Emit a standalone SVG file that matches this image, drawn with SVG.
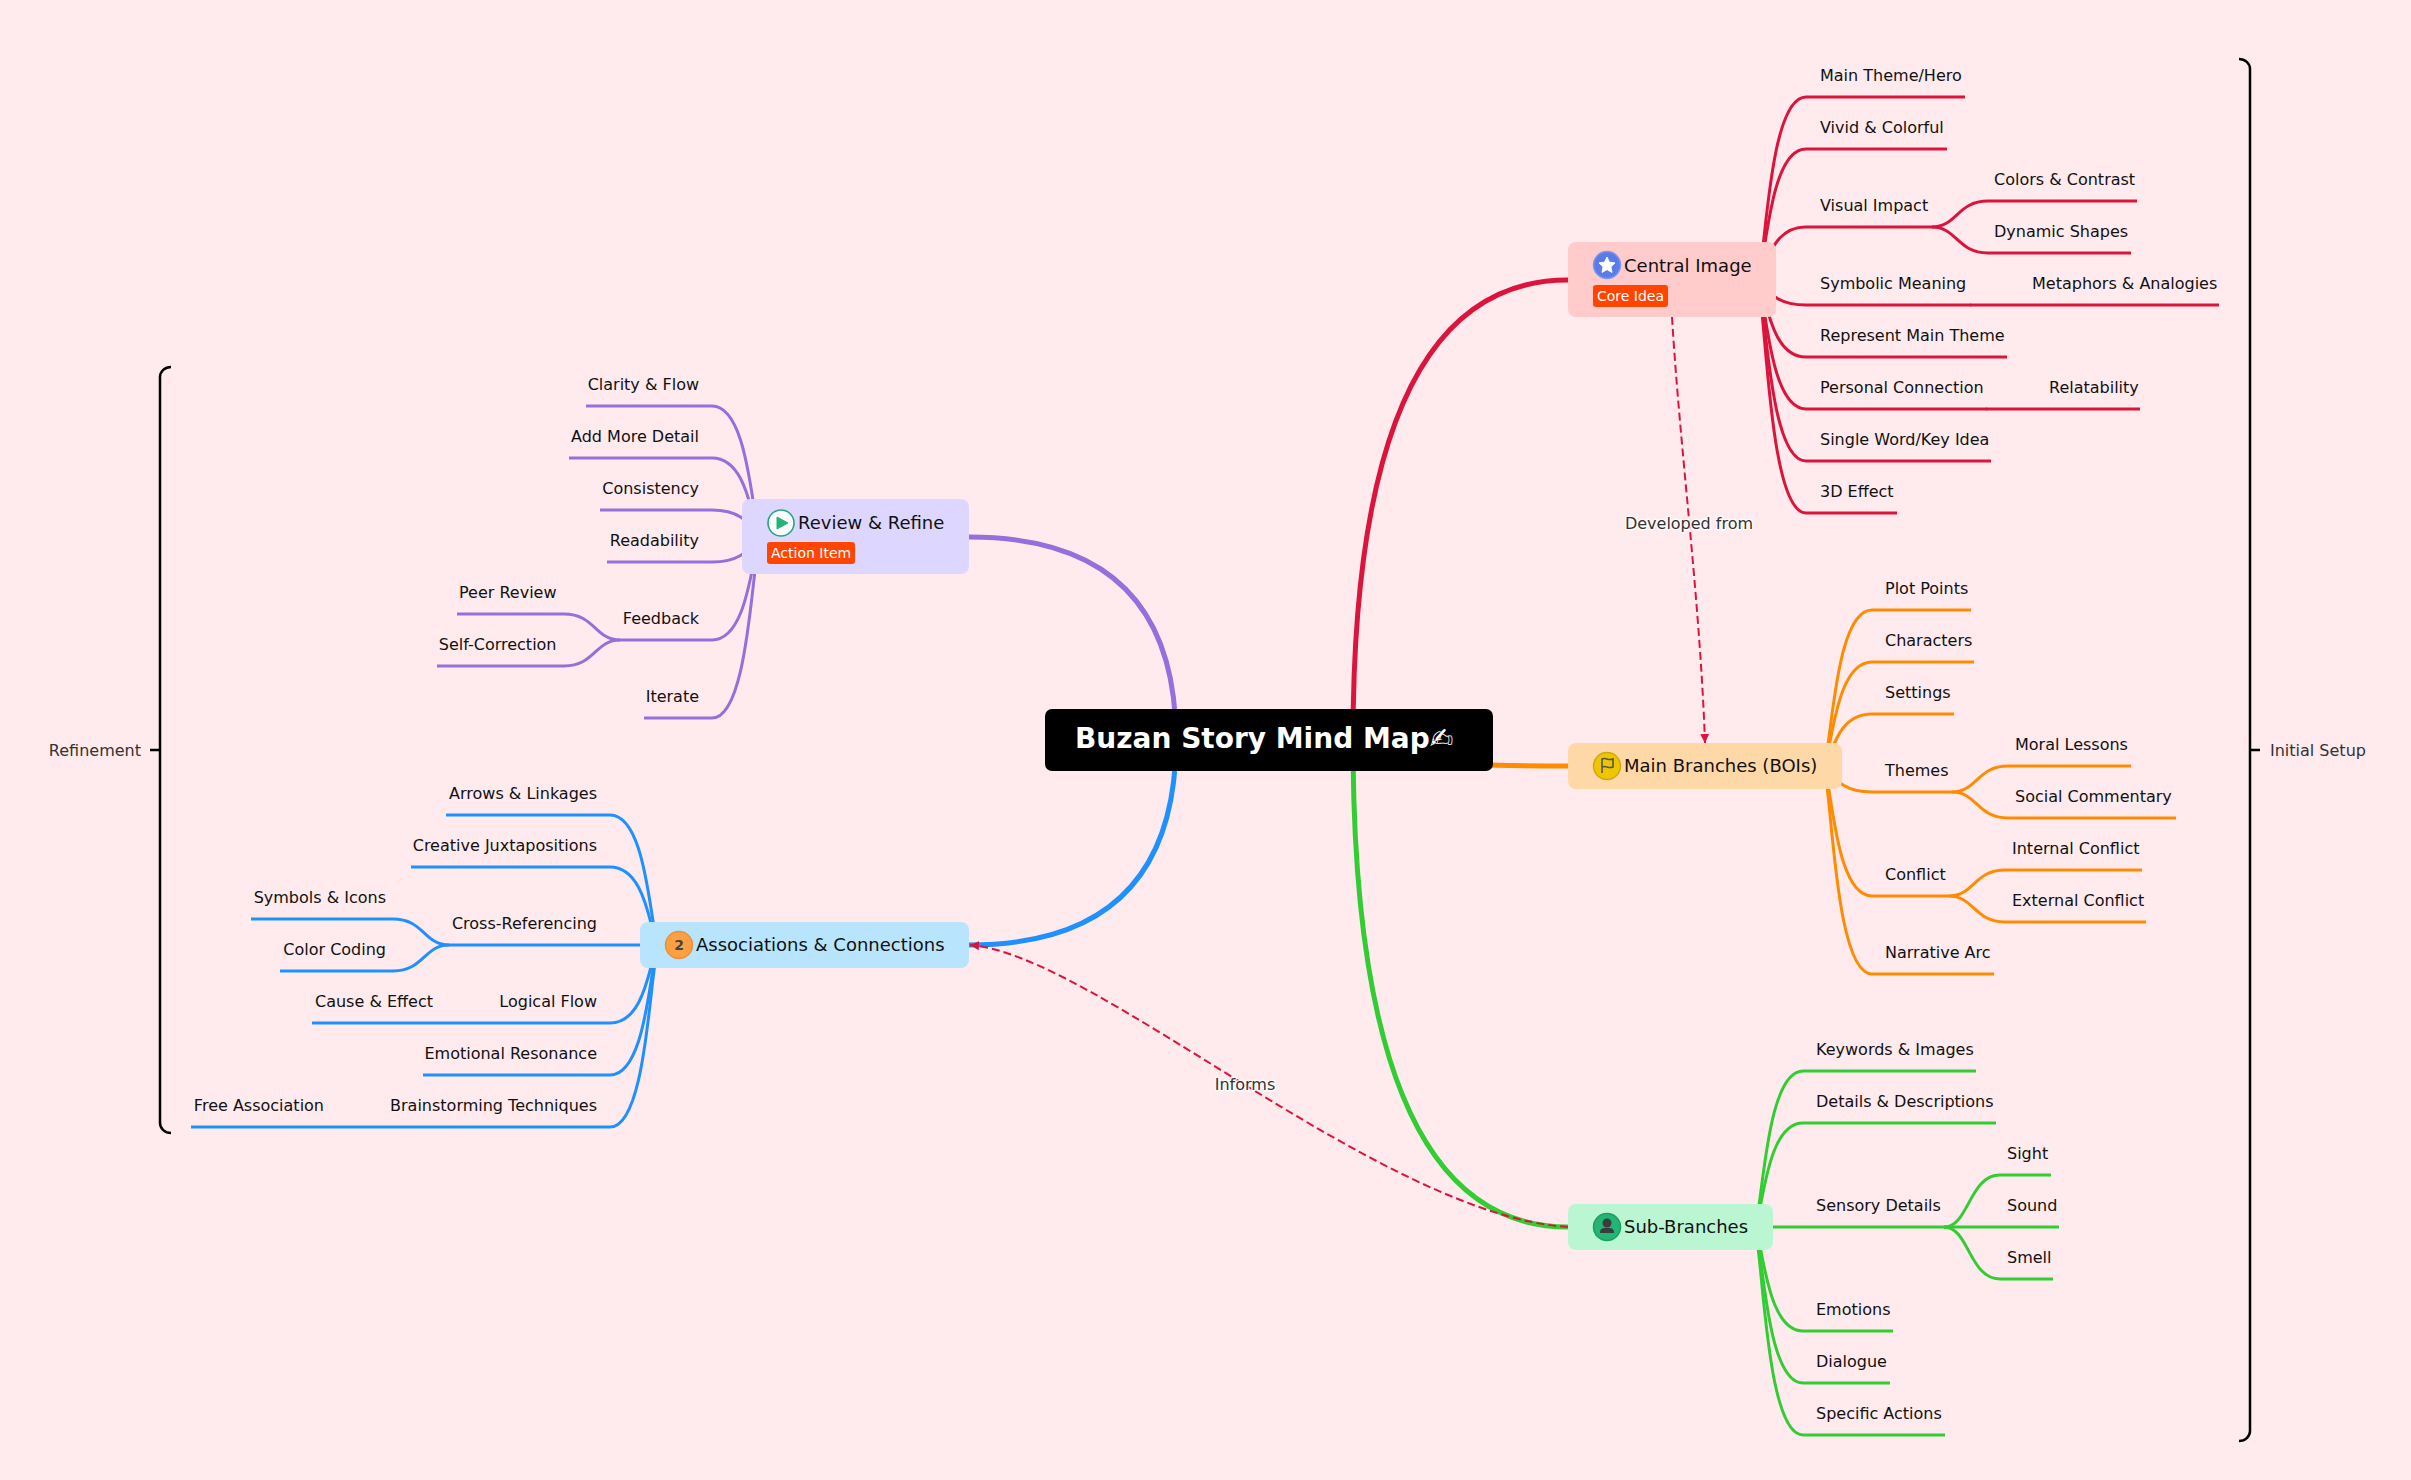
<svg xmlns="http://www.w3.org/2000/svg" width="2411" height="1480" viewBox="0 0 2411 1480">
<style>
text{font-family:"DejaVu Sans","Noto Sans CJK SC",sans-serif;font-size:16px;fill:#111}
.e{text-anchor:end}
.m{font-size:18px}
.t{font-size:14px;fill:#fff}
.s{fill:#333}
.l{fill:#333;text-anchor:middle;stroke:#fff;stroke-width:3px;stroke-opacity:.8;paint-order:stroke;stroke-linejoin:round}
.title{font-size:28px;font-weight:700;fill:#fff}
path{fill:none}
.r path{stroke:#dc143c}.o path{stroke:#ff8c00}.g path{stroke:#32cd32}.b path{stroke:#1e90ff}.p path{stroke:#9370db}
.main path{stroke-width:5}
.sub path{stroke-width:3}
.link{stroke:#dc143c;stroke-width:2;stroke-dasharray:8 4;marker-end:url(#arrow)}
.brace{stroke:#000;stroke-width:2.5}
.tag{fill:#ff4500}
</style>
<defs><marker id="arrow" markerUnits="userSpaceOnUse" markerWidth="10" markerHeight="10" refX="9" refY="5" orient="auto"><polygon points="0,0.5 9,5 0,9.5" fill="#dc143c"/></marker></defs>
<rect width="2411" height="1480" fill="#ffeaee"/>
<g id="connectors">
<g class="main">
<g class="r"><path d="M1353 740Q1353 280 1568 280"/></g>
<g class="o"><path d="M1353 740Q1353 766 1568 766"/></g>
<g class="g"><path d="M1353 740Q1353 1227 1568 1227"/></g>
<g class="p"><path d="M1176 740Q1176 537 969 537"/></g>
<g class="b"><path d="M1176 740Q1176 945 969 945"/></g>
</g>
<g class="sub">
<g class="r">
<path d="M1756 280C1766 280 1766 97 1806 97H1965"/>
<path d="M1756 280C1766 280 1766 149 1806 149H1947"/>
<path d="M1756 280C1766 280 1766 227 1806 227H1932"/>
<path d="M1756 280C1766 280 1766 305 1806 305H1971"/>
<path d="M1756 280C1766 280 1766 357 1806 357H2007"/>
<path d="M1756 280C1766 280 1766 409 1806 409H1987"/>
<path d="M1756 280C1766 280 1766 461 1806 461H1991"/>
<path d="M1756 280C1766 280 1766 513 1806 513H1897"/>
<path d="M1932 227C1957 227 1957 201 1988 201H2137"/>
<path d="M1932 227C1957 227 1957 253 1988 253H2131"/>
<path d="M1970 305H2219"/>
<path d="M1986 409H2140"/>
</g>
<g class="o">
<path d="M1822 766C1832 766 1832 610 1872 610H1971"/>
<path d="M1822 766C1832 766 1832 662 1872 662H1974"/>
<path d="M1822 766C1832 766 1832 714 1872 714H1954"/>
<path d="M1822 766C1832 766 1832 792 1872 792H1952"/>
<path d="M1822 766C1832 766 1832 896 1872 896H1949"/>
<path d="M1822 766C1832 766 1832 974 1872 974H1994"/>
<path d="M1952 792C1977 792 1977 766 2008 766H2131"/>
<path d="M1952 792C1977 792 1977 818 2008 818H2176"/>
<path d="M1949 896C1974 896 1974 870 2005 870H2142"/>
<path d="M1949 896C1974 896 1974 922 2005 922H2146"/>
</g>
<g class="g">
<path d="M1753 1227C1763 1227 1763 1071 1803 1071H1976"/>
<path d="M1753 1227C1763 1227 1763 1123 1803 1123H1996"/>
<path d="M1753 1227H1944"/>
<path d="M1753 1227C1763 1227 1763 1331 1803 1331H1893"/>
<path d="M1753 1227C1763 1227 1763 1383 1803 1383H1890"/>
<path d="M1753 1227C1763 1227 1763 1435 1803 1435H1945"/>
<path d="M1944 1227C1969 1227 1969 1175 2000 1175H2051"/>
<path d="M1944 1227H2059"/>
<path d="M1944 1227C1969 1227 1969 1279 2000 1279H2053"/>
</g>
<g class="p">
<path d="M762 537C752 537 752 406 712 406H586"/>
<path d="M762 537C752 537 752 458 712 458H569"/>
<path d="M762 537C752 537 752 510 712 510H600"/>
<path d="M762 537C752 537 752 562 712 562H607"/>
<path d="M762 537C752 537 752 640 712 640H620"/>
<path d="M762 537C752 537 752 718 712 718H644"/>
<path d="M620 640C595 640 595 614 564 614H457"/>
<path d="M620 640C595 640 595 666 564 666H437"/>
</g>
<g class="b">
<path d="M660 945C650 945 650 815 610 815H446"/>
<path d="M660 945C650 945 650 867 610 867H411"/>
<path d="M660 945H449"/>
<path d="M660 945C650 945 650 1023 610 1023H495"/>
<path d="M660 945C650 945 650 1075 610 1075H423"/>
<path d="M660 945C650 945 650 1127 610 1127H387"/>
<path d="M449 945C424 945 424 919 393 919H251"/>
<path d="M449 945C424 945 424 971 393 971H280"/>
<path d="M495 1023H312"/>
<path d="M387 1127H191"/>
</g>
</g>
</g>
<g id="summaries">
<path class="brace" d="M2239 59A11 10 0 0 1 2250 69V1431A11 10 0 0 1 2239 1441M2250 750H2260"/>
<text class="s" x="2270" y="756">Initial Setup</text>
<path class="brace" d="M171 367A11 10 0 0 0 160 377V1123A11 10 0 0 0 171 1133M160 750H150"/>
<text class="s e" x="141" y="756">Refinement</text>
</g>
<g id="root"><rect x="1045" y="709" width="448" height="62" rx="7" fill="#000"/><text class="title" x="1075" y="748">Buzan Story Mind Map✍</text></g>
<g id="central-image"><rect x="1568" y="242" width="208" height="75" rx="8" fill="#ffcbcb"/>
<circle cx="1607" cy="265" r="13.5" fill="#5b7be8" stroke="#7d97f0" stroke-width="1.5"/>
<polygon points="1607,257 1609.4,262.2 1615,262.9 1610.9,266.8 1612,272.4 1607,269.6 1602,272.4 1603.1,266.8 1599,262.9 1604.6,262.2" fill="#fff" stroke="#fff" stroke-linejoin="round"/>
<text class="m" x="1624" y="272">Central Image</text><rect class="tag" x="1593" y="285" width="75" height="22" rx="3"/><text class="t" x="1597" y="301">Core Idea</text></g>
<g id="main-branches"><rect x="1568" y="743" width="274" height="46" rx="8" fill="#ffd8a8"/>
<circle cx="1607" cy="766" r="13.5" fill="#eec600" stroke="#cfa90f" stroke-width="1.5"/>
<path d="M1602 773V759C1606 757 1608 761 1613 759V767C1608 769 1606 765 1602 767" stroke="#555" stroke-width="1.6"/>
<text class="m" x="1624" y="772">Main Branches (BOIs)</text></g>
<g id="sub-branches"><rect x="1568" y="1204" width="205" height="46" rx="8" fill="#bbf6d2"/>
<circle cx="1607" cy="1227" r="13.5" fill="#22b573" stroke="#1e9c64" stroke-width="1.5"/>
<circle cx="1607" cy="1223" r="4.5" fill="#3c3c3c"/><path d="M1600 1233C1600 1228 1603 1228 1607 1228C1611 1228 1614 1228 1614 1233Z" style="fill:#3c3c3c"/>
<text class="m" x="1624" y="1233">Sub-Branches</text></g>
<g id="review-refine"><rect x="742" y="499" width="227" height="75" rx="8" fill="#ddd6fe"/>
<circle cx="781" cy="523" r="13" fill="#fff" stroke="#22a97a" stroke-width="1.6"/>
<polygon points="777,517 788,523 777,529" fill="#22b573" stroke="#22b573" stroke-linejoin="round"/>
<text class="m" x="798" y="529">Review &amp; Refine</text><rect class="tag" x="767" y="542" width="88" height="22" rx="3"/><text class="t" x="771" y="558">Action Item</text></g>
<g id="associations"><rect x="640" y="922" width="329" height="46" rx="8" fill="#b8e5fd"/>
<circle cx="679" cy="945" r="13.5" fill="#ff9f43" stroke="#ee8f3a" stroke-width="1.5"/>
<text x="679" y="950" text-anchor="middle" style="font-size:14px;font-weight:700;fill:#444">2</text>
<text class="m" x="696" y="951">Associations &amp; Connections</text></g>
<g id="central-children">
<text x="1820" y="81">Main Theme/Hero</text><text x="1820" y="133">Vivid &amp; Colorful</text><text x="1820" y="211">Visual Impact</text><text x="1994" y="185">Colors &amp; Contrast</text><text x="1994" y="237">Dynamic Shapes</text><text x="1820" y="289">Symbolic Meaning</text><text x="2032" y="289">Metaphors &amp; Analogies</text><text x="1820" y="341">Represent Main Theme</text><text x="1820" y="393">Personal Connection</text><text x="2049" y="393">Relatability</text><text x="1820" y="445">Single Word/Key Idea</text><text x="1820" y="497">3D Effect</text>
</g>
<g id="main-children">
<text x="1885" y="594">Plot Points</text><text x="1885" y="646">Characters</text><text x="1885" y="698">Settings</text><text x="1885" y="776">Themes</text><text x="2015" y="750">Moral Lessons</text><text x="2015" y="802">Social Commentary</text><text x="1885" y="880">Conflict</text><text x="2012" y="854">Internal Conflict</text><text x="2012" y="906">External Conflict</text><text x="1885" y="958">Narrative Arc</text>
</g>
<g id="sub-children">
<text x="1816" y="1055">Keywords &amp; Images</text><text x="1816" y="1107">Details &amp; Descriptions</text><text x="1816" y="1211">Sensory Details</text><text x="2007" y="1159">Sight</text><text x="2007" y="1211">Sound</text><text x="2007" y="1263">Smell</text><text x="1816" y="1315">Emotions</text><text x="1816" y="1367">Dialogue</text><text x="1816" y="1419">Specific Actions</text>
</g>
<g id="review-children">
<text class="e" x="699" y="390">Clarity &amp; Flow</text><text class="e" x="699" y="442">Add More Detail</text><text class="e" x="699" y="494">Consistency</text><text class="e" x="699" y="546">Readability</text><text class="e" x="699" y="624">Feedback</text><text class="e" x="556.5" y="598">Peer Review</text><text class="e" x="556.5" y="650">Self-Correction</text><text class="e" x="699" y="702">Iterate</text>
</g>
<g id="assoc-children">
<text class="e" x="597" y="799">Arrows &amp; Linkages</text><text class="e" x="597" y="851">Creative Juxtapositions</text><text class="e" x="597" y="929">Cross-Referencing</text><text class="e" x="386" y="903">Symbols &amp; Icons</text><text class="e" x="386" y="955">Color Coding</text><text class="e" x="597" y="1007">Logical Flow</text><text class="e" x="433" y="1007">Cause &amp; Effect</text><text class="e" x="597" y="1059">Emotional Resonance</text><text class="e" x="597" y="1111">Brainstorming Techniques</text><text class="e" x="324" y="1111">Free Association</text>
</g>
<g id="links">
<path class="link" d="M1672 317C1680 450 1700 600 1705 743"/>
<path class="link" d="M1568 1227C1380 1215 1094 954 970 945"/>
<text class="l" x="1689" y="529">Developed from</text>
<text class="l" x="1245" y="1090">Informs</text>
</g>
</svg>
